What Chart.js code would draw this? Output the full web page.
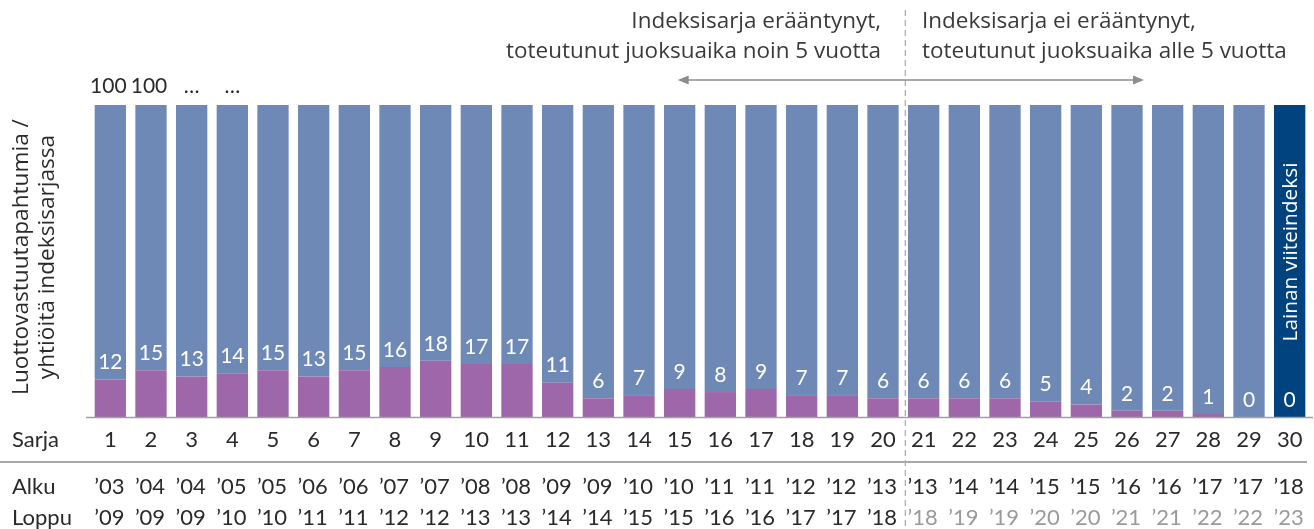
<!DOCTYPE html>
<html><head><meta charset="utf-8">
<script src="https://cdn.jsdelivr.net/npm/chart.js@4/dist/chart.umd.min.js"></script>
<style>html,body{margin:0;padding:0;background:#fff}canvas{display:block}</style>
</head><body>
<canvas id="c" width="1314" height="529"></canvas>
<script>
const sarja = ['1','2','3','4','5','6','7','8','9','10','11','12','13','14','15','16','17','18','19','20','21','22','23','24','25','26','27','28','29','30'];
const defaults = [12,15,13,14,15,13,15,16,18,17,17,11,6,7,9,8,9,7,7,6,6,6,6,5,4,2,2,1,0,0];
const totals = [100,100,100,100,100,100,100,100,100,100,100,100,100,100,100,100,100,100,100,100,100,100,100,100,100,100,100,100,100,100];
const topLabels = ['100','100','…','…'];
const alku = ['’03','’04','’04','’05','’05','’06','’06','’07','’07','’08','’08','’09','’09','’10','’10','’11','’11','’12','’12','’13','’13','’14','’14','’15','’15','’16','’16','’17','’17','’18'];
const loppu = ['’09','’09','’09','’10','’10','’11','’11','’12','’12','’13','’13','’14','’14','’15','’15','’16','’16','’17','’17','’18','’18','’19','’19','’20','’20','’21','’21','’22','’22','’23'];
const rest = totals.map((t,i)=>t-defaults[i]);

const BLUE='#6f89b7', PURPLE='#9d67a9', NAVY='#00437f';
const FONT='Lato, "Open Sans", sans-serif';

function fitFont(ctx, text, width, family, base){
  ctx.font = base+'px '+family;
  const w = ctx.measureText(text).width;
  return (base*width/w).toFixed(2)+'px '+family;
}

const overlay = {
  id:'overlay',
  afterDraw(chart){
    const ctx=chart.ctx, x=chart.scales.x, y=chart.scales.y, ca=chart.chartArea;
    ctx.save();
    // axis line
    ctx.strokeStyle='#a0a0a0'; ctx.lineWidth=1.5;
    ctx.beginPath(); ctx.moveTo(86,ca.bottom+0.5); ctx.lineTo(1313,ca.bottom+0.5); ctx.stroke();
    // separator
    ctx.strokeStyle='#8a8a8a'; ctx.lineWidth=1.5;
    ctx.beginPath(); ctx.moveTo(0,462); ctx.lineTo(1307,462); ctx.stroke();
    // dashed line
    const dx=(x.getPixelForValue(19)+x.getPixelForValue(20))/2+2;
    ctx.strokeStyle='#9db2cf'; ctx.lineWidth=1.3; ctx.setLineDash([6,4]);
    ctx.beginPath(); ctx.moveTo(dx,10); ctx.lineTo(dx,529); ctx.stroke();
    ctx.setLineDash([]);
    // arrow
    const ax1=x.getPixelForValue(14)-2, ax2=x.getPixelForValue(25)+17, ay=80;
    ctx.strokeStyle='#8c8c8c'; ctx.fillStyle='#8c8c8c'; ctx.lineWidth=1.5;
    ctx.beginPath(); ctx.moveTo(ax1+8,ay); ctx.lineTo(ax2-8,ay); ctx.stroke();
    ctx.beginPath(); ctx.moveTo(ax1,ay); ctx.lineTo(ax1+11,ay-4.5); ctx.lineTo(ax1+11,ay+4.5); ctx.closePath(); ctx.fill();
    ctx.beginPath(); ctx.moveTo(ax2,ay); ctx.lineTo(ax2-11,ay-4.5); ctx.lineTo(ax2-11,ay+4.5); ctx.closePath(); ctx.fill();
    // annotations
    const annFont = fitFont(ctx,'toteutunut juoksuaika noin 5 vuotta',375,'"Open Sans", sans-serif',20);
    ctx.fillStyle='#3a3a3a'; ctx.font=annFont; ctx.textBaseline='middle';
    ctx.textAlign='right';
    ctx.fillText('Indeksisarja erääntynyt,',881,22);
    ctx.fillText('toteutunut juoksuaika noin 5 vuotta',881,52);
    ctx.textAlign='left';
    ctx.fillText('Indeksisarja ei erääntynyt,',922,22);
    ctx.fillText('toteutunut juoksuaika alle 5 vuotta',922,52);
    // top labels
    ctx.textAlign='center'; ctx.fillStyle='#2a2a2a'; ctx.font='21px '+FONT;
    topLabels.forEach((t,i)=>{ ctx.fillText(t, x.getPixelForValue(i)-(i<2?2:0), 86); });
    // value labels in bars
    ctx.fillStyle='#ffffff'; ctx.font='21px '+FONT;
    defaults.forEach((v,i)=>{ ctx.fillText(String(v), x.getPixelForValue(i), y.getPixelForValue(v)-17); });
    // rotated label in last bar
    ctx.save();
    ctx.translate(x.getPixelForValue(29)+1, 252); ctx.rotate(-Math.PI/2);
    ctx.font=fitFont(ctx,'Lainan viiteindeksi',179,'"Open Sans", sans-serif',19);
    ctx.fillText('Lainan viiteindeksi',0,0);
    ctx.restore();
    // y title
    const yFont = fitFont(ctx,'Luottovastuutapahtumia /',276,'"Open Sans", sans-serif',20);
    ctx.save();
    ctx.fillStyle='#2a2a2a'; ctx.font=yFont;
    ctx.translate(22,257); ctx.rotate(-Math.PI/2); ctx.fillText('Luottovastuutapahtumia /',0,0);
    ctx.restore();
    ctx.save();
    ctx.fillStyle='#2a2a2a'; ctx.font=yFont;
    ctx.translate(48,257); ctx.rotate(-Math.PI/2); ctx.fillText('yhtiöitä indeksisarjassa',0,0);
    ctx.restore();
    // rows
    ctx.font='22px '+FONT; ctx.textAlign='left'; ctx.fillStyle='#2a2a2a';
    ctx.fillText('Sarja',12,440);
    ctx.fillText('Alku',12,487);
    ctx.fillText('Loppu',12,518);
    ctx.textAlign='center';
    sarja.forEach((t,i)=>{ ctx.fillStyle='#2a2a2a'; ctx.fillText(t, x.getPixelForValue(i), 440); });
    alku.forEach((t,i)=>{ ctx.fillStyle='#2a2a2a'; ctx.fillText(t, x.getPixelForValue(i)-1, 487); });
    loppu.forEach((t,i)=>{ ctx.fillStyle= i>=20 ? '#9a9a9a' : '#2a2a2a'; ctx.fillText(t, x.getPixelForValue(i)-1, 518); });
    ctx.restore();
  }
};

new Chart(document.getElementById('c'), {
  type:'bar',
  data:{
    labels: sarja,
    datasets:[
      {data: defaults, backgroundColor: defaults.map((v,i)=> i===29 ? NAVY : PURPLE), borderWidth:0},
      {data: rest, backgroundColor: rest.map((v,i)=> i===29 ? NAVY : BLUE), borderWidth:0}
    ]
  },
  options:{
    responsive:false, animation:false,
    layout:{padding:{left:90, right:4, top:105, bottom:112}},
    datasets:{bar:{barPercentage:0.77, categoryPercentage:1}},
    plugins:{legend:{display:false}, tooltip:{enabled:false}},
    scales:{
      x:{display:false, stacked:true},
      y:{display:false, stacked:true, min:0, max:100}
    }
  },
  plugins:[overlay]
});
</script>
</body></html>
